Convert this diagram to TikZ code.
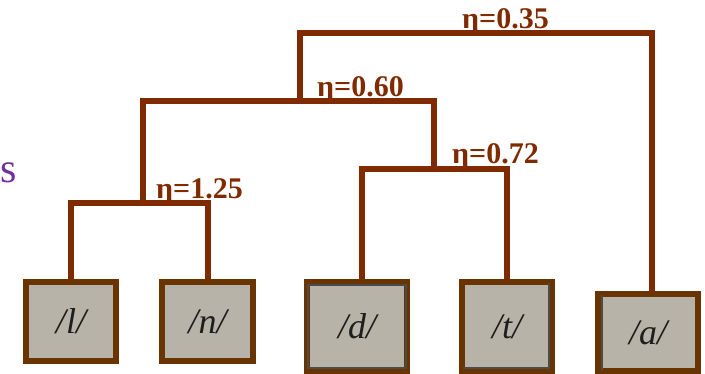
\documentclass[tikz,border=0pt]{standalone}
\usepackage{fontspec}
\setmainfont{Liberation Serif}
\definecolor{branchc}{RGB}{128,42,0}
\definecolor{framec}{RGB}{106,52,0}
\definecolor{paperc}{RGB}{184,179,168}
\definecolor{inkc}{RGB}{30,30,28}
\definecolor{purplec}{RGB}{112,48,160}
\tikzset{
  branch/.style={draw=branchc, line width=6pt, line join=miter},
  leafbox/.style={draw=framec, fill=paperc, line width=6pt, inner sep=0pt,
     font=\fontsize{36}{36}\selectfont\itshape, text=inkc},
  eta/.style={text=branchc, inner sep=0pt, anchor=base west,
     font=\fontsize{30}{30}\selectfont\bfseries},
  scanline/.style={draw=inkc!80, line width=1.2pt}
}
\begin{document}
\begin{tikzpicture}[x=1pt,y=-1pt]
\useasboundingbox (0,0) rectangle (705,374);
% leaves
\node[leafbox, minimum width=90pt, minimum height=79pt] (b1) at (71,321.5) {/l/};
\node[leafbox, minimum width=91pt, minimum height=79pt] (b2) at (207.5,321.5) {/n/};
\node[leafbox, minimum width=100pt, minimum height=89pt] (b3) at (357,326.5) {/d/};
\node[leafbox, minimum width=90pt, minimum height=89pt] (b4) at (507,326.5) {/t/};
\node[leafbox, minimum width=100pt, minimum height=77pt] (b5) at (648,332.5) {/a/};
% scan edges inside boxes
\draw[scanline] ([shift={(4,6)}]b3.north west) rectangle ([shift={(-4,-6)}]b3.south east);
\draw[scanline] ([shift={(-6,4)}]b4.north east) -- ([shift={(-6,-6)}]b4.south east) -- ([shift={(4,-6)}]b4.south west);
\draw[scanline] ([shift={(7,4)}]b5.north west) -- ([shift={(7,-4)}]b5.south west);
% junctions
\coordinate (c1) at (143,203);
\coordinate (c2) at (434,169);
\coordinate (c3) at (300,101);
\coordinate (c4) at (476,33);
% branches
\draw[branch] (b1.north) |- (c1) -| (b2.north);
\draw[branch] ([xshift=5pt]b3.north) |- (c2) -| (b4.north);
\draw[branch] (c1) |- (c3) -| (c2);
\draw[branch] (c3) |- (c4) -| ([xshift=4pt]b5.north);
% labels
\node[eta] (l1) at (156,199) {η=1.25};
\node[eta] (l2) at (317,97) {η=0.60};
\node[eta] (l3) at (452,164) {η=0.72};
\node[eta] (l4) at (462,29) {η=0.35};
\node[text=purplec, inner sep=0pt, anchor=base west, font=\fontsize{42}{42}\selectfont] (s) at (0,183) {s};
\end{tikzpicture}
\end{document}
